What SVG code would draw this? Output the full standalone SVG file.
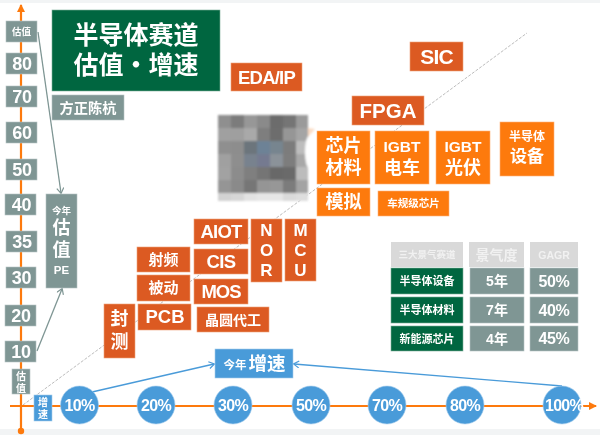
<svg xmlns="http://www.w3.org/2000/svg" width="600" height="435" viewBox="0 0 600 435">
<style>
text{font-family:"Liberation Sans","Noto Sans CJK SC",sans-serif;font-weight:700;fill:#fff;text-anchor:middle;dominant-baseline:central}
.g{fill:#7f9694;stroke:#b5c4c3;stroke-width:.6}
.d{fill:#dc5a20;stroke:#eda07c;stroke-width:.6}
.o{fill:#fd7a0e;stroke:#fdb27a;stroke-width:.6}
.k{fill:#04663f;stroke:#7fb09c;stroke-width:.6}
.b{fill:#4a9bd9;stroke:#a4cdec;stroke-width:.6}
.h{fill:#d9d9d9}
.h+text{fill:#f1f1f1}
.ln{fill:none}
.pct{font-size:16px;letter-spacing:-.7px}
.tp{font-size:16px;letter-spacing:-.4px}
.num{font-size:18px;letter-spacing:-.3px}
.v{font-size:17px}
</style>
<defs>
<filter id="soft" filterUnits="userSpaceOnUse" x="0" y="0" width="600" height="435"><feGaussianBlur stdDeviation=".4"/></filter>
<filter id="softer" filterUnits="userSpaceOnUse" x="200" y="100" width="125" height="115"><feGaussianBlur stdDeviation=".8"/></filter>
<marker id="ao" markerWidth="9" markerHeight="8" refX="7" refY="4" orient="auto" markerUnits="userSpaceOnUse"><path d="M0 0L8 4L0 8Z" fill="#fd7a0e"/></marker>
<marker id="ag" markerWidth="8" markerHeight="8" refX="6" refY="4" orient="auto" markerUnits="userSpaceOnUse"><path d="M1 .5L6.5 4L1 7.5" fill="none" stroke="#7f9694" stroke-width="1.2"/></marker>
<marker id="ab" markerWidth="8" markerHeight="8" refX="6" refY="4" orient="auto" markerUnits="userSpaceOnUse"><path d="M1 .5L6.5 4L1 7.5" fill="none" stroke="#4a9bd9" stroke-width="1.2"/></marker>
</defs>
<rect width="600" height="435" fill="#fff"/>
<rect width="600" height="3" fill="#f2f4f5"/>
<rect y="429" width="600" height="6" fill="#f2f4f5"/>
<g filter="url(#soft)">
<g id="connectors" class="ln">
<path d="M23 405L527 33" stroke="#b4b4b4" stroke-width=".9" stroke-dasharray="3 1.5"/>
<path d="M21 431V5" stroke="#fd7a0e" stroke-width="2.2" marker-end="url(#ao)"/>
<circle cx="21" cy="431" r="3.2" fill="#fd7a0e"/>
<path d="M10 406H596" stroke="#fd7a0e" stroke-width="2.2" marker-end="url(#ao)"/>
<path d="M38 32L61 193" stroke="#7f9694" stroke-width="1.3" marker-end="url(#ag)"/>
<path d="M37 351L62 289" stroke="#7f9694" stroke-width="1.3" marker-end="url(#ag)"/>
<path d="M92 392L214 364" stroke="#4a9bd9" stroke-width="1.4" marker-end="url(#ab)"/>
<path d="M562 386L294 364" stroke="#4a9bd9" stroke-width="1.4" marker-end="url(#ab)"/>
</g>

<g id="title"><rect class="k" x="52" y="10" width="168" height="81" stroke="none"/><text x="136" y="35" font-size="25">半导体赛道</text><text x="136" y="65" font-size="25">估值・增速</text></g>
<g id="fzck"><rect class="g" x="52" y="95" width="72" height="25"/><text x="88" y="107.500" font-size="14.200">方正陈杭</text></g>

<g id="axis-y-label"><rect class="g" x="6" y="21" width="31" height="21"/><text x="21.500" y="31.500" font-size="9.500">估值</text></g>
<g id="y80"><rect class="g" x="6" y="53" width="31" height="21"/><text class="num" x="22" y="63.500">80</text></g>
<g id="y70"><rect class="g" x="6" y="86" width="31" height="21"/><text class="num" x="22" y="96.500">70</text></g>
<g id="y60"><rect class="g" x="6" y="122" width="31" height="21"/><text class="num" x="22" y="132.500">60</text></g>
<g id="y50"><rect class="g" x="6" y="159" width="31" height="21"/><text class="num" x="22" y="169.500">50</text></g>
<g id="y40"><rect class="g" x="5" y="194" width="31" height="21"/><text class="num" x="21.500" y="204.500">40</text></g>
<g id="y35"><rect class="g" x="6" y="231" width="31" height="21"/><text class="num" x="22" y="241.500">35</text></g>
<g id="y30"><rect class="g" x="6" y="267" width="30" height="21"/><text class="num" x="21.500" y="277.500">30</text></g>
<g id="y20"><rect class="g" x="5" y="305" width="31" height="21"/><text class="num" x="21" y="315.500">20</text></g>
<g id="y10"><rect class="g" x="5" y="341" width="31" height="21"/><text class="num" x="21" y="351.500">10</text></g>
<g id="y-small"><rect class="g" x="12" y="369" width="18" height="25"/><text x="21" y="376" font-size="10">估</text><text x="21" y="388" font-size="10">值</text></g>
<g id="x-small"><rect class="b" x="34" y="395" width="18" height="26"/><text x="43" y="402" font-size="10">增</text><text x="43" y="414" font-size="10">速</text></g>

<g id="pe"><rect class="g" x="46" y="194" width="31" height="94"/><text x="61.500" y="210" font-size="9.500">今年</text><text x="61.500" y="228" font-size="18">估</text><text x="61.500" y="250" font-size="18">值</text><text x="61.500" y="270" font-size="11.500">PE</text></g>

<g id="mosaic" filter="url(#softer)">
<rect x="218" y="115" width="13" height="13" fill="#8f8f8f"/><rect x="231" y="115" width="13" height="13" fill="#7c7c7c"/><rect x="244" y="115" width="13" height="13" fill="#979797"/><rect x="257" y="115" width="13" height="13" fill="#8a8a8a"/><rect x="270" y="115" width="13" height="13" fill="#6c6c6c"/><rect x="283" y="115" width="13" height="13" fill="#757575"/><rect x="296" y="115" width="12" height="13" fill="#9a9a9a"/>
<rect x="218" y="128" width="13" height="13" fill="#a0a0a0"/><rect x="231" y="128" width="13" height="13" fill="#9f9f9f"/><rect x="244" y="128" width="13" height="13" fill="#a9a9a9"/><rect x="257" y="128" width="13" height="13" fill="#7e7e7e"/><rect x="270" y="128" width="13" height="13" fill="#6d6d6d"/><rect x="283" y="128" width="13" height="13" fill="#969696"/><rect x="296" y="128" width="12" height="13" fill="#a5a5a5"/>
<rect x="218" y="141" width="13" height="13" fill="#8f8f8f"/><rect x="231" y="141" width="13" height="13" fill="#8d8d8d"/><rect x="244" y="141" width="13" height="13" fill="#6c747b"/><rect x="257" y="141" width="13" height="13" fill="#6d8296"/><rect x="270" y="141" width="13" height="13" fill="#77858f"/><rect x="283" y="141" width="13" height="13" fill="#7b7b7b"/><rect x="296" y="141" width="12" height="13" fill="#bdbdbd"/>
<rect x="218" y="154" width="13" height="13" fill="#a0a0a0"/><rect x="231" y="154" width="13" height="13" fill="#8e8e8e"/><rect x="244" y="154" width="13" height="13" fill="#78828e"/><rect x="257" y="154" width="13" height="13" fill="#747a90"/><rect x="270" y="154" width="13" height="13" fill="#8b9299"/><rect x="283" y="154" width="13" height="13" fill="#7d7d7d"/><rect x="296" y="154" width="12" height="13" fill="#a8a8a8"/>
<rect x="218" y="167" width="13" height="13" fill="#a2a2a2"/><rect x="231" y="167" width="13" height="13" fill="#8c8c8c"/><rect x="244" y="167" width="13" height="13" fill="#7f7f7f"/><rect x="257" y="167" width="13" height="13" fill="#757575"/><rect x="270" y="167" width="13" height="13" fill="#686868"/><rect x="283" y="167" width="13" height="13" fill="#6a6a6a"/><rect x="296" y="167" width="12" height="13" fill="#bcbcbc"/>
<rect x="218" y="180" width="13" height="13" fill="#959595"/><rect x="231" y="180" width="13" height="13" fill="#8a8a8a"/><rect x="244" y="180" width="13" height="13" fill="#767676"/><rect x="257" y="180" width="13" height="13" fill="#959595"/><rect x="270" y="180" width="13" height="13" fill="#979797"/><rect x="283" y="180" width="13" height="13" fill="#7b7b7b"/><rect x="296" y="180" width="12" height="13" fill="#a3a3a3"/>
<rect x="218" y="193" width="13" height="8" fill="#d2d2d2"/><rect x="231" y="193" width="13" height="8" fill="#d6d6d6"/><rect x="244" y="193" width="13" height="8" fill="#e2e2e2"/><rect x="257" y="193" width="13" height="8" fill="#e6e6e6"/><rect x="270" y="193" width="13" height="8" fill="#e6e6e6"/><rect x="283" y="193" width="13" height="8" fill="#dadada"/><rect x="296" y="193" width="12" height="8" fill="#dedede"/>
<ellipse cx="309" cy="152" rx="4" ry="16" fill="#fff"/>
<path d="M308 128L315 129L308 137Z" fill="#fbdcc4"/>
</g>

<g id="edaip"><rect class="d" x="231" y="63" width="71" height="28"/><text x="266.500" y="77" font-size="18.500" letter-spacing="-.8">EDA/IP</text></g>
<g id="sic"><rect class="d" x="410" y="42" width="53" height="29"/><text x="436.500" y="56.500" font-size="21" letter-spacing="-.8">SIC</text></g>
<g id="fpga"><rect class="d" x="352" y="96" width="72" height="29"/><text x="388" y="110.500" font-size="20.500">FPGA</text></g>
<g id="aiot"><rect class="d" x="194" y="219" width="54" height="25"/><text x="221" y="231.500" font-size="18.500" letter-spacing="-.8">AIOT</text></g>
<g id="cis"><rect class="d" x="194" y="249" width="54" height="25"/><text x="221" y="261.500" font-size="18.500" letter-spacing="-.6">CIS</text></g>
<g id="mos"><rect class="d" x="194" y="279" width="54" height="25"/><text x="221" y="291.500" font-size="18.500" letter-spacing="-1">MOS</text></g>
<g id="wafer"><rect class="d" x="197" y="307" width="72" height="25"/><text x="233" y="319.500" font-size="14">晶圆代工</text></g>
<g id="nor"><rect class="d" x="251" y="219" width="31" height="63"/><text class="v" x="266.500" y="230.500">N</text><text class="v" x="266.500" y="250.200">O</text><text class="v" x="266.500" y="270">R</text></g>
<g id="mcu"><rect class="d" x="285" y="219" width="31" height="62"/><text class="v" x="300.500" y="230.500">M</text><text class="v" x="300.500" y="250.200">C</text><text class="v" x="300.500" y="270">U</text></g>
<g id="rf"><rect class="d" x="137" y="247" width="53" height="25"/><text x="163.500" y="259" font-size="15">射频</text></g>
<g id="passive"><rect class="d" x="137" y="275" width="53" height="26"/><text x="163.500" y="287.500" font-size="15">被动</text></g>
<g id="pcb"><rect class="d" x="138" y="304" width="53" height="26"/><text x="165" y="316.500" font-size="18.500">PCB</text></g>
<g id="pack"><rect class="d" x="104" y="304" width="31" height="54"/><text x="119.500" y="319" font-size="18">封</text><text x="119.500" y="342" font-size="18">测</text></g>

<g id="material"><rect class="o" x="317" y="131" width="53" height="53"/><text x="343.500" y="146" font-size="18">芯片</text><text x="343.500" y="168" font-size="18">材料</text></g>
<g id="analog"><rect class="o" x="317" y="188" width="53" height="28"/><text x="343.500" y="201.500" font-size="18">模拟</text></g>
<g id="auto"><rect class="o" x="378" y="191" width="71" height="25"/><text x="413.500" y="203" font-size="10.500">车规级芯片</text></g>
<g id="igbt-ev"><rect class="o" x="375" y="131" width="54" height="53"/><text x="402" y="146" font-size="15.500">IGBT</text><text x="402" y="168" font-size="18">电车</text></g>
<g id="igbt-pv"><rect class="o" x="436" y="131" width="54" height="53"/><text x="463" y="146" font-size="15.500">IGBT</text><text x="463" y="168" font-size="18">光伏</text></g>
<g id="equipment"><rect class="o" x="500" y="122" width="54" height="54"/><text x="527" y="137" font-size="12">半导体</text><text x="527" y="156" font-size="17">设备</text></g>

<g id="growth"><rect class="b" x="215" y="349" width="78" height="29"/><text x="235" y="364.500" font-size="11.500">今年</text><text x="267" y="363.500" font-size="18.500">增速</text></g>

<g id="c10"><circle class="b" cx="79.500" cy="405" r="19"/><text class="pct" x="79.500" y="405.500">10%</text></g>
<g id="c20"><circle class="b" cx="156" cy="405" r="19"/><text class="pct" x="156" y="405.500">20%</text></g>
<g id="c30"><circle class="b" cx="233" cy="405" r="19"/><text class="pct" x="233" y="405.500">30%</text></g>
<g id="c50"><circle class="b" cx="311" cy="405" r="19"/><text class="pct" x="311" y="405.500">50%</text></g>
<g id="c70"><circle class="b" cx="387" cy="405" r="19"/><text class="pct" x="387" y="405.500">70%</text></g>
<g id="c80"><circle class="b" cx="465" cy="405" r="19"/><text class="pct" x="465" y="405.500">80%</text></g>
<g id="c100"><circle class="b" cx="562" cy="405" r="19"/><text class="pct" x="564" y="405.500" letter-spacing="-1">100%</text></g>

<g id="table">
<rect class="h" x="391" y="242" width="72" height="25"/><text x="427" y="254.500" font-size="9.500">三大景气赛道</text>
<rect class="h" x="469" y="242" width="55" height="25"/><text x="496.500" y="254.500" font-size="14">景气度</text>
<rect class="h" x="530" y="242" width="48" height="25"/><text x="554" y="254.500" font-size="10.500">GAGR</text>
<rect class="k" x="391" y="268" width="72" height="26"/><text x="427" y="281" font-size="11">半导体设备</text>
<rect class="g" x="470" y="268" width="54" height="26"/><text x="497" y="281" font-size="14">5年</text>
<rect class="g" x="530" y="268" width="48" height="26"/><text class="tp" x="554" y="281">50%</text>
<rect class="k" x="391" y="297" width="72" height="26"/><text x="427" y="310" font-size="11">半导体材料</text>
<rect class="g" x="470" y="297" width="54" height="26"/><text x="497" y="310" font-size="14">7年</text>
<rect class="g" x="530" y="297" width="48" height="26"/><text class="tp" x="554" y="310">40%</text>
<rect class="k" x="391" y="326" width="72" height="25"/><text x="427" y="338.500" font-size="11">新能源芯片</text>
<rect class="g" x="470" y="326" width="54" height="25"/><text x="497" y="338.500" font-size="14">4年</text>
<rect class="g" x="530" y="326" width="48" height="25"/><text class="tp" x="554" y="338.500">45%</text>
</g>
</g>
</svg>
